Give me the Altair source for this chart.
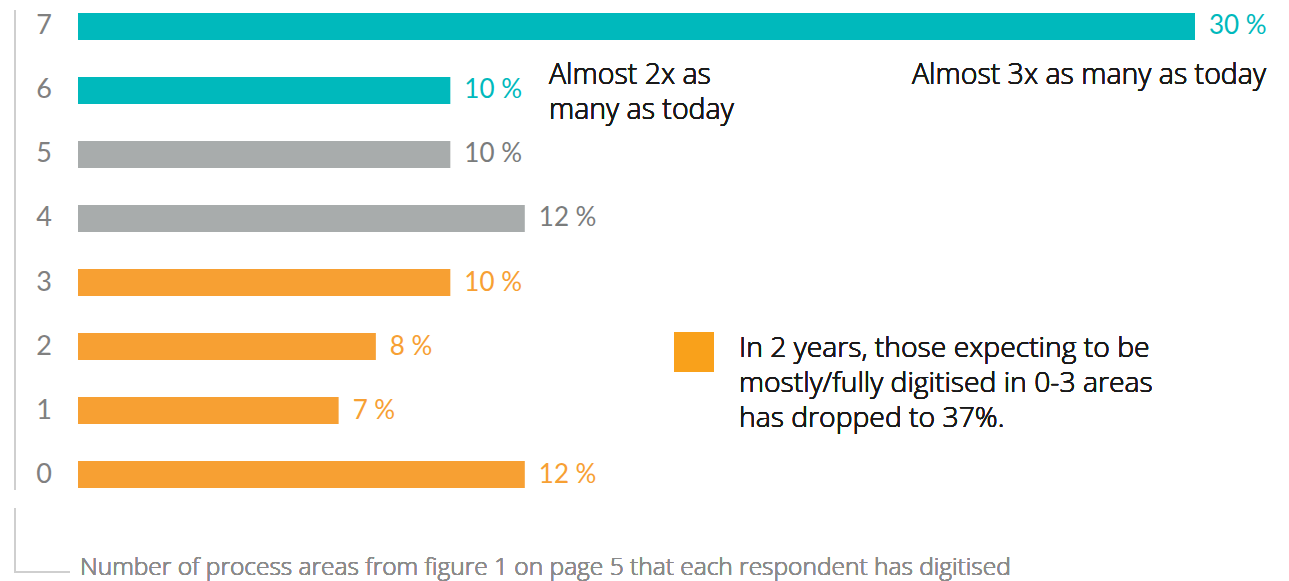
import altair as alt
import pandas as pd

categories = ["7", "6", "5", "4", "3", "2", "1", "0"]
values = [30, 10, 10, 12, 10, 8, 7, 12]
labels = ["30 %", "10 %", "10 %", "12 %", "10 %", "8 %", "7 %", "12 %"]
groups = ["high", "high", "mid", "mid", "low", "low", "low", "low"]

bar_colors = {"high": "#00B9BC", "mid": "#A8ACAC", "low": "#F7A033"}
label_colors = {"high": "#00B9BC", "mid": "#7A7C7C", "low": "#F7A033"}

df = pd.DataFrame({
    "cat": categories,
    "value": values,
    "label": labels,
    "group": groups,
})

FONT = "Lato"
TFONT = "Open Sans"
W, H = 1117, 475

x = alt.X("value:Q", scale=alt.Scale(domain=[0, 30], nice=False, zero=True), axis=None)
y = alt.Y("cat:N", sort=categories,
          scale=alt.Scale(paddingInner=0.58, paddingOuter=0), axis=None)

color_bar = alt.Color("group:N", scale=alt.Scale(domain=list(bar_colors.keys()),
                                                range=list(bar_colors.values())), legend=None)

bars = alt.Chart(df).mark_bar().encode(x=x, y=y, color=color_bar)

vlabels = alt.Chart(df).mark_text(align="left", baseline="middle", dx=14, font=FONT,
                                  fontSize=26).encode(
    x=x, y=y, text="label:N",
    color=alt.Color("group:N", scale=alt.Scale(domain=list(label_colors.keys()),
                                               range=list(label_colors.values())), legend=None),
)

ticklabels = alt.Chart(df).mark_text(align="center", baseline="middle", font=FONT,
                                     fontSize=27, color="#808080").encode(
    x=alt.value(-34), y=y, text="cat:N")

# axis-like lines
line1 = alt.Chart(df).mark_rule(color="#CFCFCF", strokeWidth=2).encode(
    x=alt.value(-63), y=alt.value(-3), y2=alt.value(477))
line2 = alt.Chart(df).mark_rule(color="#CFCFCF", strokeWidth=2).encode(
    x=alt.value(-63), y=alt.value(495), y2=alt.value(559))
line3 = alt.Chart(df).mark_rule(color="#CFCFCF", strokeWidth=2).encode(
    x=alt.value(-64), x2=alt.value(-8), y=alt.value(559))

axis_title = alt.Chart(df).mark_text(
    align="left", baseline="middle", font=TFONT, fontSize=24.5, fontWeight=300,
    color="#8A8A8A",
    text="Number of process areas from figure 1 on page 5 that each respondent has digitised",
).encode(x=alt.value(2), y=alt.value(555))

ann2 = alt.Chart(df).mark_text(
    align="left", baseline="middle", font=TFONT, fontSize=28.5, fontWeight=300,
    color="#1A1A1A",
    text=["Almost 2x as", "many as today"], lineHeight=35,
).encode(x=alt.value(471), y=alt.value(62))

ann3 = alt.Chart(df).mark_text(
    align="right", baseline="middle", font=TFONT, fontSize=28.5, fontWeight=300,
    color="#1A1A1A",
    text="Almost 3x as many as today",
).encode(x=alt.value(1188), y=alt.value(62))

square = alt.Chart(df).mark_rect(color="#F9A11B").encode(
    x=alt.value(596), x2=alt.value(636), y=alt.value(319), y2=alt.value(359))

note = alt.Chart(df).mark_text(
    align="left", baseline="middle", font=TFONT, fontSize=28.3, fontWeight=300,
    color="#1A1A1A",
    text=["In 2 years, those expecting to be", "mostly/fully digitised in 0-3 areas",
          "has dropped to 37%."], lineHeight=35,
).encode(x=alt.value(661), y=alt.value(336))

chart = alt.layer(
    line1, line2, line3, bars, vlabels, ticklabels, axis_title, ann2, ann3, square, note
).resolve_scale(color="independent").properties(
    width=W, height=H,
    autosize=alt.AutoSizeParams(type="none"),
    padding={"left": 70, "top": 5, "right": 86, "bottom": 100},
).configure_view(stroke=None)

chart.save("out.html", embed_options={"renderer": "svg", "actions": False})
